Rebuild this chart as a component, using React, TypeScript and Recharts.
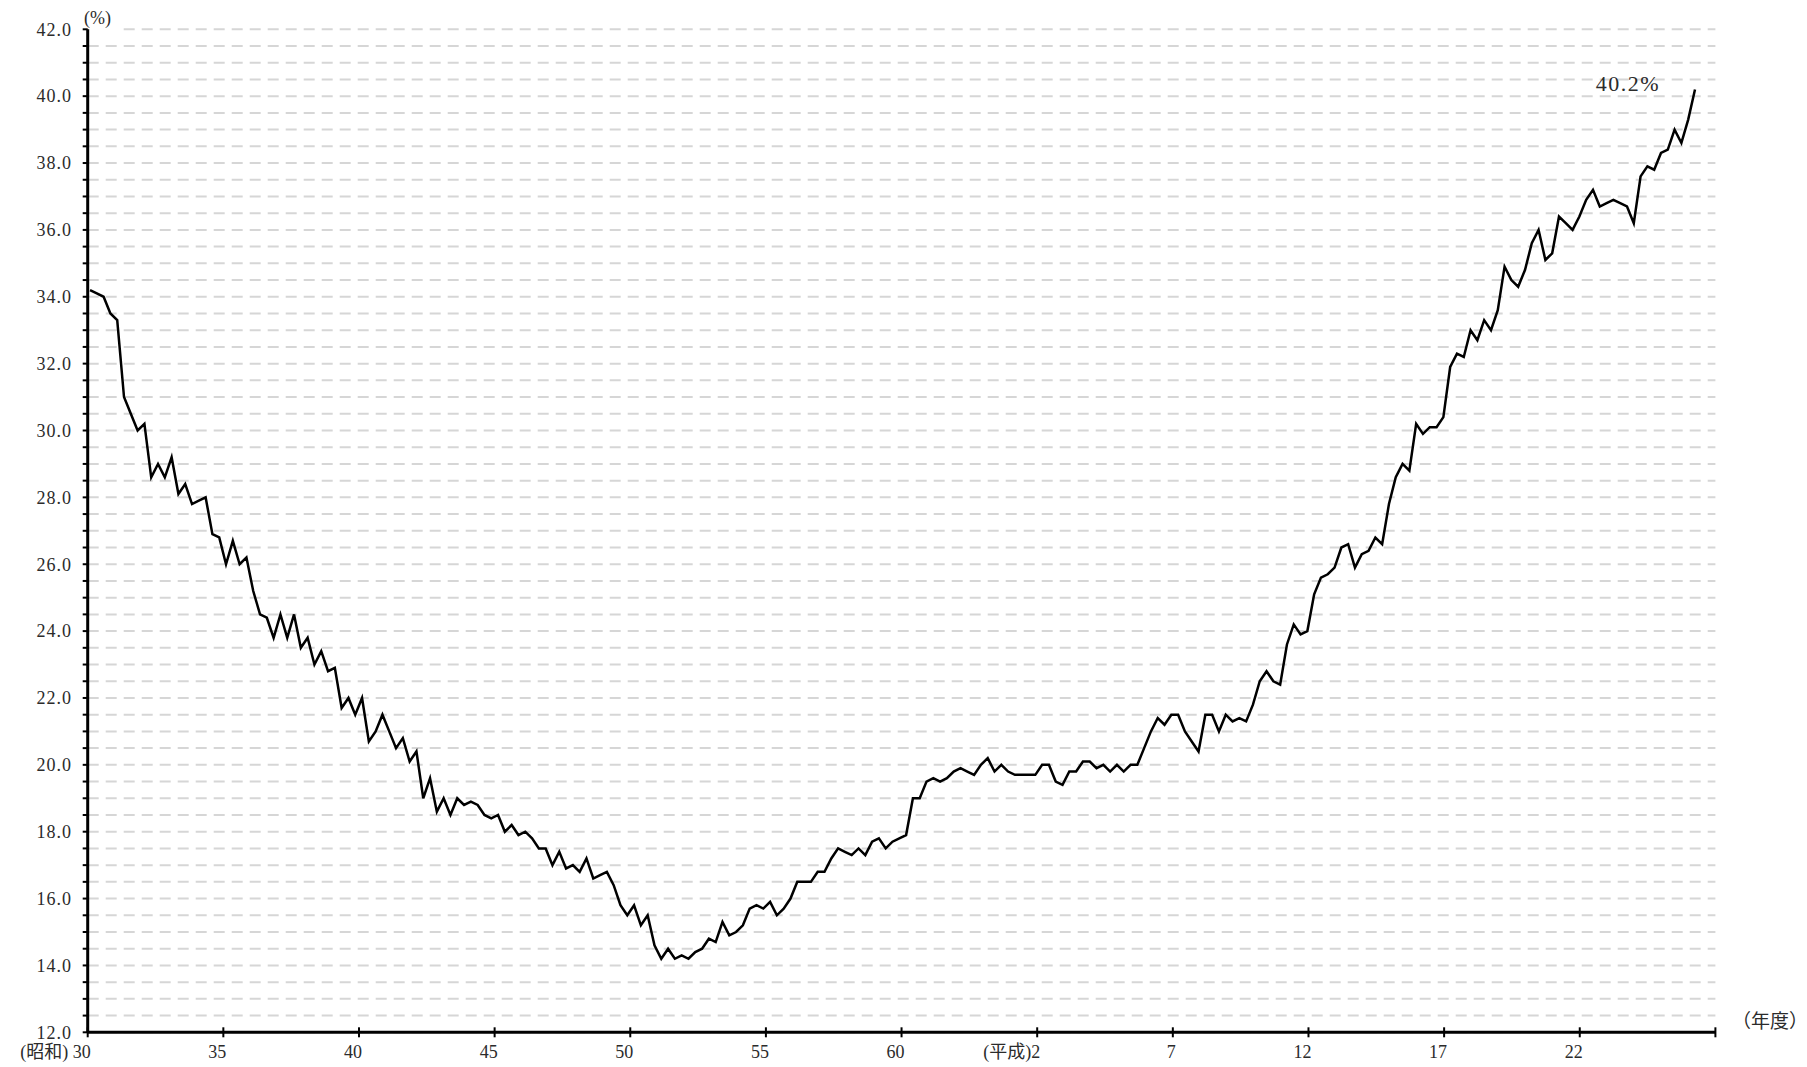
import React from "react";
import {
  LineChart,
  Line,
  XAxis,
  YAxis,
  CartesianGrid,
  LabelList,
} from "recharts";

const FONT = "'Liberation Serif', 'Noto Sans CJK JP', serif";
const TEXT = "#2b2b2b";

// quarterly values (%), grouped by 5 fiscal years
const showa30to34 = [
  34.2, 34.1, 34.0, 33.5, 33.3, 31.0, 30.5, 30.0, 30.2, 28.6,
  29.0, 28.6, 29.2, 28.1, 28.4, 27.8, 27.9, 28.0, 26.9, 26.8,
];
const showa35to39 = [
  26.0, 26.7, 26.0, 26.2, 25.2, 24.5, 24.4, 23.8, 24.5, 23.8,
  24.5, 23.5, 23.8, 23.0, 23.4, 22.8, 22.9, 21.7, 22.0, 21.5,
];
const showa40to44 = [
  22.0, 20.7, 21.0, 21.5, 21.0, 20.5, 20.8, 20.1, 20.4, 19.0,
  19.6, 18.6, 19.0, 18.5, 19.0, 18.8, 18.9, 18.8, 18.5, 18.4,
];
const showa45to49 = [
  18.5, 18.0, 18.2, 17.9, 18.0, 17.8, 17.5, 17.5, 17.0, 17.4,
  16.9, 17.0, 16.8, 17.2, 16.6, 16.7, 16.8, 16.4, 15.8, 15.5,
];
const showa50to54 = [
  15.8, 15.2, 15.5, 14.6, 14.2, 14.5, 14.2, 14.3, 14.2, 14.4,
  14.5, 14.8, 14.7, 15.3, 14.9, 15.0, 15.2, 15.7, 15.8, 15.7,
];
const showa55to59 = [
  15.9, 15.5, 15.7, 16.0, 16.5, 16.5, 16.5, 16.8, 16.8, 17.2,
  17.5, 17.4, 17.3, 17.5, 17.3, 17.7, 17.8, 17.5, 17.7, 17.8,
];
const showa60toHeisei1 = [
  17.9, 19.0, 19.0, 19.5, 19.6, 19.5, 19.6, 19.8, 19.9, 19.8,
  19.7, 20.0, 20.2, 19.8, 20.0, 19.8, 19.7, 19.7, 19.7, 19.7,
];
const heisei2to6 = [
  20.0, 20.0, 19.5, 19.4, 19.8, 19.8, 20.1, 20.1, 19.9, 20.0,
  19.8, 20.0, 19.8, 20.0, 20.0, 20.5, 21.0, 21.4, 21.2, 21.5,
];
const heisei7to11 = [
  21.5, 21.0, 20.7, 20.4, 21.5, 21.5, 21.0, 21.5, 21.3, 21.4,
  21.3, 21.8, 22.5, 22.8, 22.5, 22.4, 23.6, 24.2, 23.9, 24.0,
];
const heisei12to16 = [
  25.1, 25.6, 25.7, 25.9, 26.5, 26.6, 25.9, 26.3, 26.4, 26.8,
  26.6, 27.8, 28.6, 29.0, 28.8, 30.2, 29.9, 30.1, 30.1, 30.4,
];
const heisei17to21 = [
  31.9, 32.3, 32.2, 33.0, 32.7, 33.3, 33.0, 33.6, 34.9, 34.5,
  34.3, 34.8, 35.6, 36.0, 35.1, 35.3, 36.4, 36.2, 36.0, 36.4,
];
const heisei22to26 = [
  36.9, 37.2, 36.7, 36.8, 36.9, 36.8, 36.7, 36.2, 37.6, 37.9,
  37.8, 38.3, 38.4, 39.0, 38.6, 39.3, 40.2,
];

const values = [
  ...showa30to34, ...showa35to39, ...showa40to44, ...showa45to49,
  ...showa50to54, ...showa55to59, ...showa60toHeisei1, ...heisei2to6,
  ...heisei7to11, ...heisei12to16, ...heisei17to21, ...heisei22to26,
];
const data = values.map((v, q) => ({ q, v }));
const lastIndex = values.length - 1;

// x axis: every 5 fiscal years, positioned in quarter units
const tickYears = [1955, 1960, 1965, 1970, 1975, 1980, 1985, 1990, 1995, 2000, 2005, 2010, 2015];
const tickLabels = ["(昭和) 30", "35", "40", "45", "50", "55", "60", "(平成)2", "7", "12", "17", "22", ""];
const X_MIN = -0.34;
const X_MAX = 239;
const xTicks = tickYears.map((y) => X_MIN + ((y - 1955) / 60) * (X_MAX - X_MIN));

const yTicks = Array.from({ length: 61 }, (_, i) => 12 + i * 0.5);

const YTick = (props: any) => {
  const { x, y, payload } = props;
  const v = payload.value;
  if (Math.round(v * 2) % 4 !== 0) return <g />;
  return (
    <text x={x} y={y} dy="0.35em" textAnchor="end" fontSize={18} fontFamily={FONT} fill={TEXT} letterSpacing={1}>
      {v.toFixed(1)}
    </text>
  );
};

const XTick = (props: any) => {
  const { x, y, payload } = props;
  const idx = xTicks.findIndex((t) => Math.abs(t - payload.value) < 0.01);
  const label = idx >= 0 ? tickLabels[idx] : "";
  return (
    <text x={x + 3} y={y} dy={14} textAnchor="end" fontSize={18} fontFamily={FONT} fill={TEXT}>
      {label}
    </text>
  );
};

const EndLabel = (props: any) => {
  const { x, y, index, value } = props;
  if (index !== lastIndex) return null;
  return (
    <text x={x - 35} y={y + 1.5} textAnchor="end" fontSize={22} fontFamily={FONT} fill={TEXT} letterSpacing={1.5}>
      {`${Number(value).toFixed(1)}%`}
    </text>
  );
};

export default function App() {
  return (
    <div style={{ position: "absolute", left: 0, top: 0, background: "#fff" }}>
      <LineChart
        width={1807}
        height={1067}
        data={data}
        margin={{ top: 29.3, right: 91.6, bottom: 0, left: 0 }}
      >
        <CartesianGrid
          vertical={false}
          stroke="#d6d6d6"
          strokeWidth={2}
          strokeDasharray="11 7"
        />
        <XAxis
          dataKey="q"
          type="number"
          domain={[X_MIN, X_MAX]}
          ticks={xTicks}
          allowDataOverflow
          height={34.7}
          axisLine={{ stroke: "#000", strokeWidth: 3 }}
          tickLine={{ stroke: "#000", strokeWidth: 2, transform: "translate(0,-5)" }}
          tickSize={10}
          tickMargin={2}
          tick={<XTick />}
          interval={0}
        />
        <YAxis
          type="number"
          domain={[12, 42]}
          ticks={yTicks}
          width={87.7}
          axisLine={{ stroke: "#000", strokeWidth: 3 }}
          tickLine={{ stroke: "#000", strokeWidth: 2 }}
          tickSize={5}
          tickMargin={10.7}
          tick={<YTick />}
          interval={0}
        />
        <Line
          type="linear"
          dataKey="v"
          stroke="#000"
          strokeWidth={2.5}
          dot={false}
          isAnimationActive={false}
        >
          <LabelList dataKey="v" content={<EndLabel />} />
        </Line>
        <rect x={81} y={24} width={41} height={10.5} fill="#fff" />
        <text x={84} y={24} fontSize={18} fontFamily={FONT} fill={TEXT}>
          (%)
        </text>
        <text x={1732} y={1028} fontSize={19} fontFamily={FONT} fill={TEXT}>
          （年度）
        </text>
      </LineChart>
    </div>
  );
}
